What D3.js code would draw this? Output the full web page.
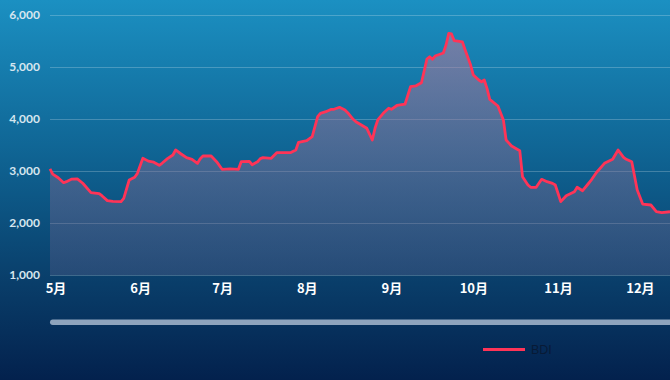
<!DOCTYPE html>
<html>
<head>
<meta charset="utf-8">
<script src="https://cdn.jsdelivr.net/npm/d3@7"></script>
<style>
  html, body { margin: 0; padding: 0; background: #0a3b66; }
  svg { display: block; }
</style>
</head>
<body>
<svg id="chart" width="670" height="380"></svg>
<script>
// ---- data ----
const dates = [
  "2021-04-29","2021-04-30","2021-05-02","2021-05-04","2021-05-05","2021-05-07","2021-05-09","2021-05-11",
  "2021-05-14","2021-05-17","2021-05-18","2021-05-20","2021-05-22","2021-05-25","2021-05-26","2021-05-28",
  "2021-05-30","2021-05-31","2021-06-02","2021-06-04","2021-06-06","2021-06-08","2021-06-09","2021-06-11",
  "2021-06-13","2021-06-14","2021-06-16","2021-06-18","2021-06-20","2021-06-22","2021-06-23","2021-06-24",
  "2021-06-27","2021-06-29","2021-07-01","2021-07-04","2021-07-07","2021-07-08","2021-07-11","2021-07-12",
  "2021-07-14","2021-07-15","2021-07-16","2021-07-19","2021-07-21","2021-07-26","2021-07-28","2021-07-29",
  "2021-08-01","2021-08-03","2021-08-05","2021-08-06","2021-08-08","2021-08-10","2021-08-11","2021-08-13",
  "2021-08-15","2021-08-16","2021-08-18","2021-08-19","2021-08-21","2021-08-23","2021-08-25","2021-08-26",
  "2021-08-27","2021-08-29","2021-08-31","2021-09-01","2021-09-03","2021-09-06","2021-09-08","2021-09-10",
  "2021-09-12","2021-09-14","2021-09-15","2021-09-16","2021-09-17","2021-09-20","2021-09-21","2021-09-22",
  "2021-09-23","2021-09-24","2021-09-27","2021-09-28","2021-09-30","2021-10-01","2021-10-03","2021-10-04",
  "2021-10-05","2021-10-06","2021-10-07","2021-10-10","2021-10-12","2021-10-13","2021-10-15","2021-10-18",
  "2021-10-19","2021-10-21","2021-10-22","2021-10-24","2021-10-26","2021-10-28","2021-10-30","2021-10-31",
  "2021-11-01","2021-11-02","2021-11-04","2021-11-07","2021-11-08","2021-11-10","2021-11-12","2021-11-13",
  "2021-11-15","2021-11-18","2021-11-21","2021-11-23","2021-11-25","2021-11-26","2021-11-28","2021-11-30",
  "2021-12-02","2021-12-05","2021-12-07","2021-12-09","2021-12-12"
];
const bdi = [
  3040,2940,2870,2775,2795,2845,2850,2765,
  2585,2565,2525,2430,2417,2410,2475,2827,
  2880,2955,3245,3190,3170,3110,3148,3237,
  3308,3404,3327,3256,3225,3148,3237,3288,
  3288,3179,3033,3040,3033,3179,3187,3121,
  3179,3237,3256,3244,3352,3352,3404,3552,
  3583,3660,4044,4110,4140,4187,4187,4225,
  4173,4121,3994,3948,3885,3821,3596,3821,
  3981,4110,4206,4187,4260,4288,4621,4638,
  4698,5154,5198,5148,5211,5269,5423,5648,
  5635,5506,5481,5327,5038,4846,4750,4717,
  4750,4590,4379,4250,3981,3596,3481,3390,
  2890,2731,2687,2687,2840,2794,2763,2731,
  2571,2410,2525,2602,2687,2621,2750,2813,
  2967,3148,3225,3404,3263,3225,3179,2635,
  2365,2346,2217,2198,2217
];
const yTicks = [1000, 2000, 3000, 4000, 5000, 6000];
const monthTicks = ["2021-05-01","2021-06-01","2021-07-01","2021-08-01","2021-09-01","2021-10-01","2021-11-01","2021-12-01"];
const monthLabels = ["5月","6月","7月","8月","9月","10月","11月","12月"];
const seriesName = "BDI";

// ---- chart ----
const W = 670, H = 380;
const margin = { left: 50, right: 0, top: 15, bottom: 105 };
const parse = d3.utcParse("%Y-%m-%d");
const data = dates.map((d, i) => ({ date: parse(d), value: bdi[i] }));

const svg = d3.select("#chart");
const defs = svg.append("defs");

const bg = defs.append("linearGradient").attr("id", "bg").attr("x1", 0).attr("y1", 0).attr("x2", 0).attr("y2", 1);
bg.append("stop").attr("offset", "0%").attr("stop-color", "#1b90c2");
bg.append("stop").attr("offset", "45%").attr("stop-color", "#0e5f8e");
bg.append("stop").attr("offset", "75%").attr("stop-color", "#093d69");
bg.append("stop").attr("offset", "100%").attr("stop-color", "#03214d");
svg.append("rect").attr("width", W).attr("height", H).attr("fill", "url(#bg)");

const ag = defs.append("linearGradient").attr("id", "areaGrad").attr("x1", 0).attr("y1", 0).attr("x2", 0).attr("y2", 1);
ag.append("stop").attr("offset", "0%").attr("stop-color", "#c07a9a").attr("stop-opacity", 0.55);
ag.append("stop").attr("offset", "100%").attr("stop-color", "#5a5f8a").attr("stop-opacity", 0.35);

const x = d3.scaleUtc()
  .domain([parse("2021-04-29"), parse("2021-12-12")])
  .range([margin.left, W - margin.right]);
const y = d3.scaleLinear()
  .domain([1000, 6000])
  .range([H - margin.bottom, margin.top]);

// grid lines
const yAxis = d3.axisLeft(y).tickValues(yTicks).tickFormat(d3.format(",")).tickSize(-(W - margin.left - margin.right)).tickPadding(10);
const gy = svg.append("g").attr("transform", `translate(${margin.left},0)`).call(yAxis);
gy.select(".domain").remove();
gy.selectAll(".tick line").attr("stroke", "rgba(255,255,255,0.22)").attr("stroke-width", 1);
gy.selectAll(".tick text")
  .attr("fill", "#d6e6ef")
  .attr("font-family", "Lato, 'Open Sans', sans-serif")
  .attr("font-weight", "bold")
  .attr("font-size", 12);

// area + line
const area = d3.area().x(d => x(d.date)).y0(y(1000)).y1(d => y(d.value));
const line = d3.line().x(d => x(d.date)).y(d => y(d.value));
svg.append("path").datum(data).attr("d", area).attr("fill", "url(#areaGrad)");
svg.append("path").datum(data).attr("d", line)
  .attr("fill", "none").attr("stroke", "#ff3457").attr("stroke-width", 2.8)
  .attr("stroke-linejoin", "round");

// x axis labels
const xAxis = d3.axisBottom(x).tickValues(monthTicks.map(parse)).tickFormat((d, i) => monthLabels[i]).tickSize(0).tickPadding(9);
const gx = svg.append("g").attr("transform", `translate(0,${y(1000)})`).call(xAxis);
gx.select(".domain").remove();
gx.selectAll(".tick text")
  .attr("fill", "#ffffff")
  .attr("font-family", "'Noto Sans CJK SC', sans-serif")
  .attr("font-weight", "bold")
  .attr("font-size", 13);

// slider bar
svg.append("rect")
  .attr("x", margin.left).attr("y", 319.5)
  .attr("width", W - margin.left + 5).attr("height", 5.5)
  .attr("rx", 2.75)
  .attr("fill", "#8ea4bd");

// legend
const lg = svg.append("g").attr("transform", "translate(483,349.5)");
lg.append("line").attr("x1", 0).attr("x2", 42).attr("y1", 0).attr("y2", 0)
  .attr("stroke", "#ff3457").attr("stroke-width", 3);
lg.append("text").attr("x", 48).attr("y", 0).attr("dy", "0.35em")
  .attr("fill", "#081a36")
  .attr("font-family", "'Liberation Sans', Arial, sans-serif")
  .attr("font-size", 12.5)
  .text(seriesName);
</script>
</body>
</html>
